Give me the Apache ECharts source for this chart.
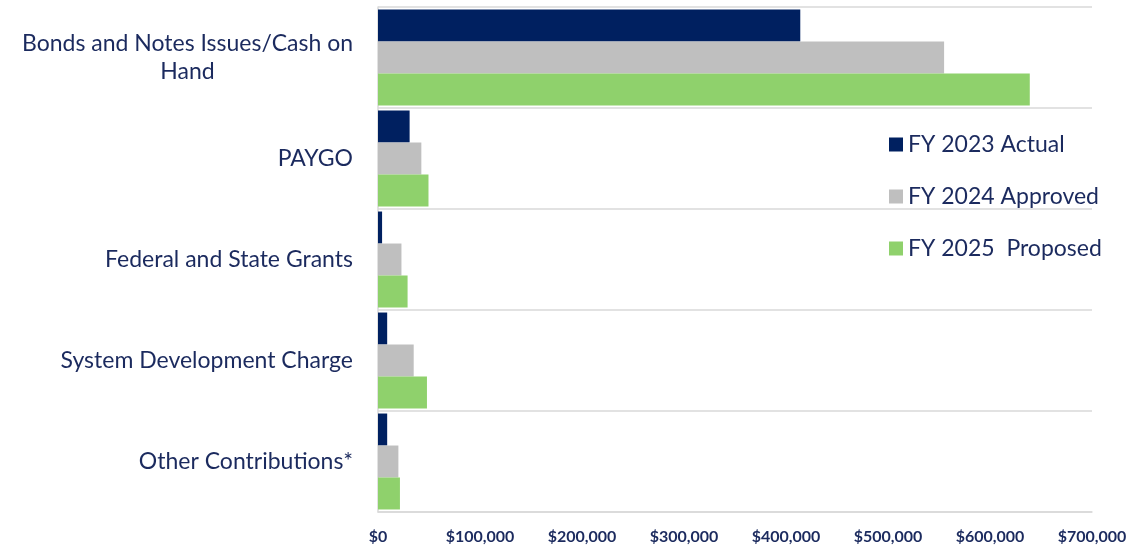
<!DOCTYPE html>
<html>
<head>
<meta charset="utf-8">
<title>Capital Funding Sources</title>
<script src="https://cdn.jsdelivr.net/npm/echarts@6/dist/echarts.min.js"></script>
<style>
    html, body { margin: 0; padding: 0; background: #fff; }
    #chart { width: 1140px; height: 552px; }
</style>
</head>
<body>
<div id="chart"></div>
<script>
// categories, top to bottom
var categories = [
    'Bonds and Notes Issues/Cash on Hand',
    'PAYGO',
    'Federal and State Grants',
    'System Development Charge',
    'Other Contributions*'
];
// values in dollars
var actual2023 = [414000, 31000, 4000, 9000, 9000];
var approved2024 = [555000, 42500, 23000, 35000, 20000];
var proposed2025 = [639000, 49500, 29000, 48000, 21500];
var seriesNames = ['FY 2023 Actual', 'FY 2024 Approved', 'FY 2025  Proposed'];
var xTicks = [0, 100000, 200000, 300000, 400000, 500000, 600000, 700000];

var navy = '#1b2a5e';
var gridGrey = '#d9d9d9';

var chart = echarts.init(document.getElementById('chart'));

// format $100,000
function money(v) {
    return '$' + String(v).replace(/\B(?=(\d{3})+(?!\d))/g, ',');
}

var option = {
    animation: false,
    textStyle: { fontFamily: 'Lato' },
    grid: { left: 378, right: 48, top: 7, bottom: 40 },
    legend: {
        orient: 'vertical',
        left: 884,
        top: 128,
        itemWidth: 14,
        itemHeight: 14,
        itemGap: 29,
        icon: 'rect',
        data: seriesNames,
        textStyle: { color: navy, fontSize: 23, fontFamily: 'Lato' }
    },
    xAxis: {
        type: 'value',
        min: xTicks[0],
        max: xTicks[xTicks.length - 1],
        interval: 100000,
        splitLine: { show: false },
        axisLine: { show: true, lineStyle: { color: gridGrey, width: 1.5 } },
        axisTick: { show: false },
        axisLabel: {
            color: navy,
            fontSize: 16,
            fontWeight: 'bold',
            margin: 17,
            formatter: money
        }
    },
    yAxis: {
        type: 'category',
        inverse: true,
        data: categories,
        axisLine: { show: true, lineStyle: { color: gridGrey, width: 1.5 } },
        axisTick: { show: false },
        splitLine: { show: true, lineStyle: { color: gridGrey, width: 1.5 } },
        axisLabel: {
            color: navy,
            fontSize: 23,
            margin: 25,
            lineHeight: 28,
            formatter: function (v) {
                if (v.indexOf('Cash on Hand') > -1) {
                    return 'Bonds and Notes Issues/Cash on\n{h|Hand}';
                }
                return v;
            },
            rich: {
                h: { align: 'center', color: navy, fontSize: 23, lineHeight: 28, fontFamily: 'Lato' }
            }
        }
    },
    series: [{
        name: seriesNames[0],
        type: 'bar',
        data: actual2023,
        barGap: '0%',
        barCategoryGap: '5%',
        itemStyle: { color: '#002060' }
    }, {
        name: seriesNames[1],
        type: 'bar',
        data: approved2024,
        itemStyle: { color: '#bfbfbf' }
    }, {
        name: seriesNames[2],
        type: 'bar',
        data: proposed2025,
        itemStyle: { color: '#8fd16c' }
    }]
};
chart.setOption(option);
</script>
</body>
</html>
